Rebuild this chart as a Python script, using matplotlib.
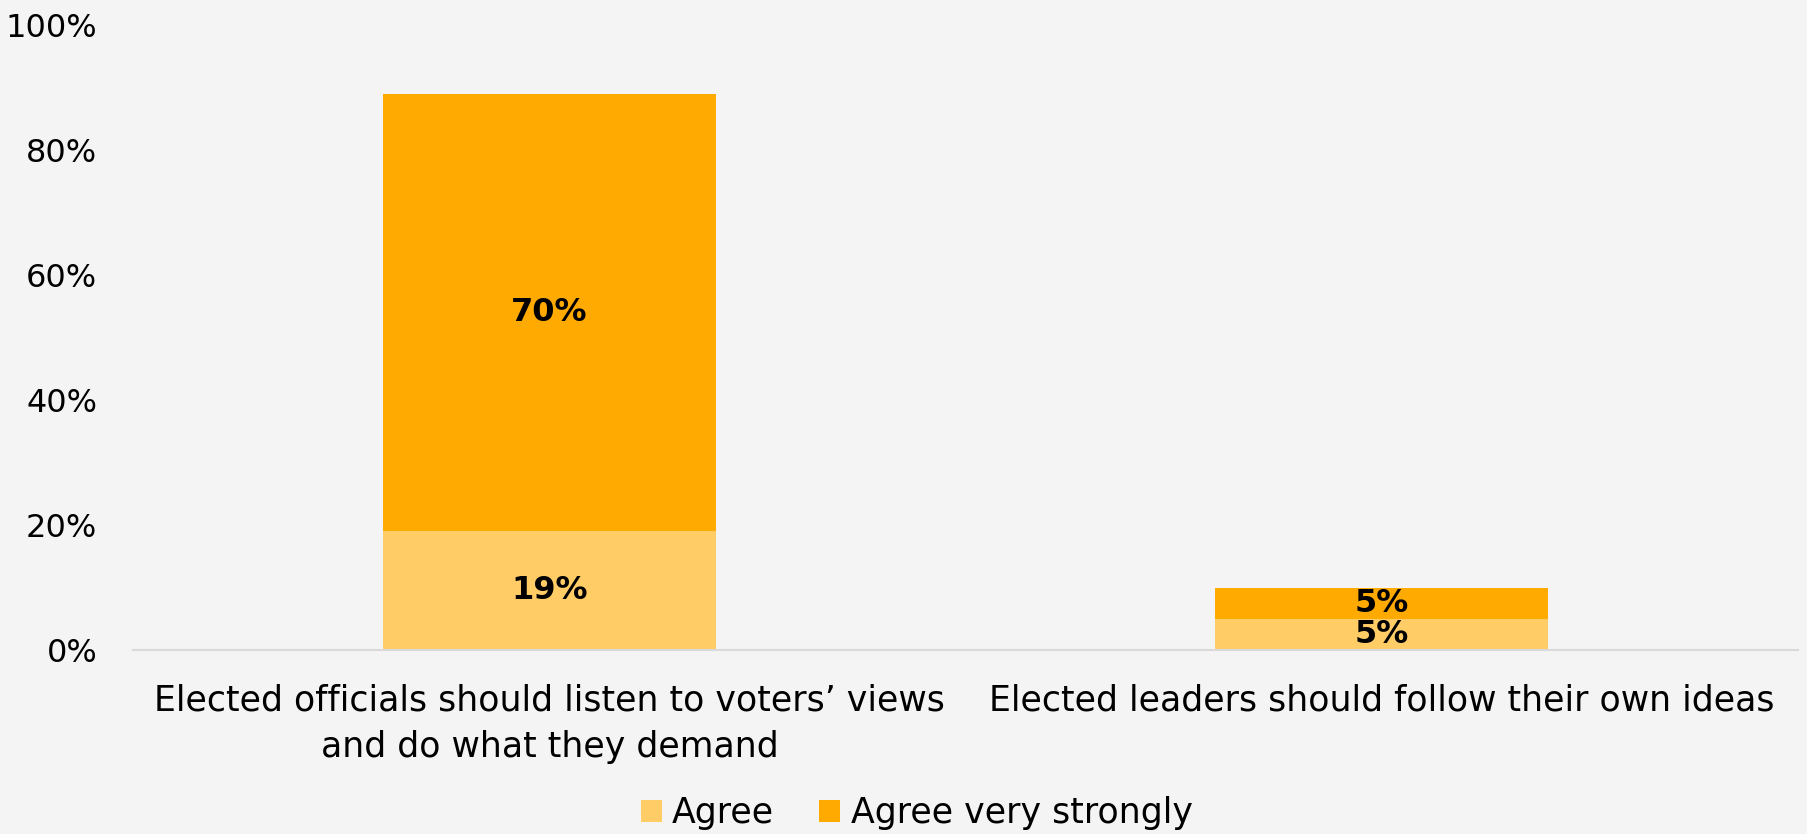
import numpy as np
import matplotlib
matplotlib.use("Agg")
import matplotlib.pyplot as plt
from matplotlib.patches import Patch

# data
categories = ["Elected officials should listen to voters\u2019 views\nand do what they demand",
              "Elected leaders should follow their own ideas"]
agree = [19, 5]
agree_strong = [70, 5]
series_names = ["Agree", "Agree very strongly"]
yticks = [0, 20, 40, 60, 80, 100]

c_agree = "#FFCC66"
c_strong = "#FFAA00"
bg = "#F4F4F4"

plt.rcParams['font.family'] = ['DejaVu Sans']

fig = plt.figure(figsize=(18.08, 8.34), dpi=100, facecolor=bg)
ax = fig.add_axes([0.0738, 0.2206, 0.9204, 0.7494])
ax.set_facecolor(bg)

x = np.arange(len(categories))
ax.bar(x, agree, width=0.4, color=c_agree, zorder=2)
ax.bar(x, agree_strong, width=0.4, bottom=agree, color=c_strong, zorder=2)

for i in range(len(categories)):
    ax.text(x[i], agree[i] / 2, f"{agree[i]}%", ha="center", va="center",
            fontsize=23, fontweight="bold", color="black", zorder=3)
    ax.text(x[i], agree[i] + agree_strong[i] / 2, f"{agree_strong[i]}%", ha="center",
            va="center", fontsize=23, fontweight="bold", color="black", zorder=3)

ax.set_xlim(-0.5, 1.5)
ax.set_ylim(0, 100)
ax.set_yticks(yticks)
ax.set_yticklabels([f"{v}%" for v in yticks], fontsize=23, color="black")
ax.set_xticks(x)
ax.set_xticklabels(categories, fontsize=25, color="black", linespacing=1.45)
ax.tick_params(axis="both", length=0)
ax.tick_params(axis="y", pad=26)
ax.tick_params(axis="x", pad=24)

for s in ["top", "right", "left"]:
    ax.spines[s].set_visible(False)
ax.spines["bottom"].set_color("#D9D9D9")
ax.spines["bottom"].set_linewidth(1.5)

handles = [Patch(facecolor=c_agree, label=series_names[0]),
           Patch(facecolor=c_strong, label=series_names[1])]
fig.legend(handles=handles, loc="center", bbox_to_anchor=(0.507, 0.025), ncol=2,
           frameon=False, fontsize=25, handlelength=0.6, handleheight=0.6,
           handletextpad=0.3, columnspacing=1.3)

fig.savefig("out.png", dpi=100, facecolor=bg)
